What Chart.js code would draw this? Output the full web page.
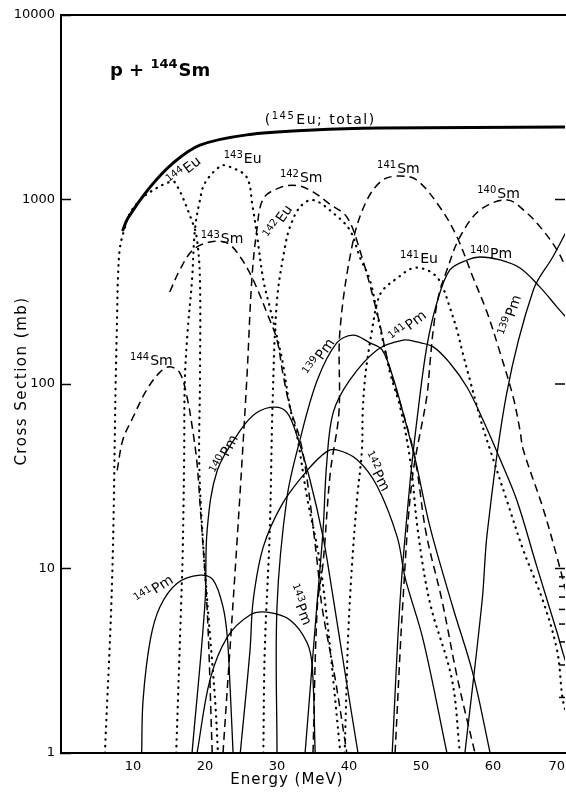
<!DOCTYPE html>
<html>
<head>
<meta charset="utf-8">
<script src="https://cdn.jsdelivr.net/npm/chart.js@4.4.1/dist/chart.umd.min.js"></script>
<style>
  html, body { margin: 0; padding: 0; background: #fff; overflow: hidden; }
</style>
</head>
<body>
<canvas id="xs" width="566" height="794"></canvas>
<script>
const FONT = '"DejaVu Sans", sans-serif';

const xTicks = [10, 20, 30, 40, 50, 60, 70];
const yTicks = [1, 10, 100, 1000, 10000];
const rightMinor = [2, 3, 4, 5, 6, 7, 8, 9];

// [energy MeV, cross section mb]
const total = [[8.6,684],[9.3,794],[12.4,1170],[15.6,1580],[19.3,1970],[25.8,2240],[35,2380],[44.3,2440],[70,2470]];

const eu144 = [[6.1,1],[7.1,8.7],[7.6,105],[7.8,243],[7.9,366],[8.2,552],[8.9,709],[9.6,845],[11,994],[12.4,1100],[14.7,1228],[15.8,1240],[18.3,746],[18.9,603],[19.3,366],[19.3,105],[19.2,37],[19.7,14.3],[20.3,6.75],[21.4,1.94],[21.8,1]];
const eu143 = [[16,1],[16.7,6.7],[16.9,12],[17.1,39],[17.2,105],[17.6,196],[18.2,366],[18.6,684],[19.3,994],[20,1230],[22.2,1520],[23.5,1500],[25.8,1320],[26.6,920],[27.2,650],[28.1,366],[29,261],[30,180],[30.8,130],[31.8,75],[32.8,52],[34.2,24],[35.6,13],[36.3,8.7],[37.4,3.6],[38.8,1]];
const eu142 = [[28.1,1],[28.3,3.6],[29,16.2],[29.4,82],[30,285],[31.1,552],[31.8,709],[33.2,911],[35,994],[37.8,845],[40.1,684],[41.5,488],[42.9,366],[43.9,243],[45.7,115],[47.1,75],[48.5,38.7],[49.6,15.6],[51.25,6.5],[54.3,2.5],[55.4,1]];
const eu141 = [[39.4,1],[39.7,2.6],[39.9,4.5],[40.4,10.2],[41.1,23.5],[41.8,44],[41.9,70],[42.2,105],[42.6,140],[43.2,196],[43.9,275],[44.7,323],[46.7,375],[48.9,425],[50.8,415],[52.2,380],[53,336],[54,261],[55,196],[55.8,147],[56.8,105],[57.8,75],[58.6,58],[59.6,44],[61.9,23.5],[64.2,12.6],[66.9,6.75],[68.9,3.6],[69.7,1.94],[70.5,1.5]];

const sm144 = [[7.8,34],[8.6,50],[10,66],[11.9,93],[13.75,116],[15.1,124],[16.5,115],[17.5,85],[18.3,56],[18.9,37],[19.3,22.6],[20.3,6],[21,1]];
const sm143 = [[15.1,315],[16.5,415],[18.3,532],[20.7,588],[23.1,580],[24.9,488],[26.7,366],[28.6,243],[30,173],[30.8,115],[31.8,75],[33.2,50],[34.2,30],[35.6,10.7],[36.25,6.2],[38.1,2.5],[39.7,1]];
const sm142 = [[22.5,1],[24.4,13.1],[25.8,105],[26.5,366],[27.2,684],[28.1,1010],[30.4,1160],[32.8,1190],[35,1100],[37.4,940],[39.7,804],[41.5,532],[43.9,243],[45.7,119],[47.5,70],[49.2,39],[50.7,15.6],[52.9,6.75],[55.1,2.5],[57.5,1]];
const sm141 = [[35,1],[35.6,6.2],[36.4,10.7],[37.4,33],[38.6,70],[38.75,196],[40.6,603],[42.5,994],[44.7,1276],[47.1,1340],[49.4,1276],[52.6,911],[55,626],[57.2,380],[59.2,243],[61,147],[62.8,85],[63.75,56],[64.2,44],[66.9,21.5],[68.9,11.5],[70.1,7.6]];
const sm140 = [[46.4,1],[47.5,6.75],[48.75,30],[50.8,85],[51.25,130],[51.7,196],[52.4,296],[53.6,415],[55.4,626],[58.2,877],[62,994],[64.7,845],[66.9,684],[68.9,532],[70.1,431]];

const pm141a = [[11.2,1],[11.4,1.94],[12.4,4.1],[13.75,6.2],[16.1,8.3],[19.3,9.2],[21.1,8.7],[22.5,6.2],[23.1,4.25],[23.5,2.2],[23.9,1]];
const pm143 = [[18.9,1],[20.7,2.5],[23.1,4.25],[26.25,5.6],[28.6,5.8],[31.8,5.26],[34.2,3.95],[34.9,2.92],[35.3,1]];
const pm140a = [[18.2,1],[20,6.5],[20.3,16.2],[21.7,34],[24.9,56],[27.2,70],[29.7,75],[31.4,70],[32.8,52],[34.6,30],[36.4,14.8],[37.4,8.7],[39.4,2.8],[41.25,1]];
const pm142 = [[24.9,1],[26.25,3.6],[26.7,6.75],[28.1,13.1],[30.8,22.6],[34.2,34],[36.9,43],[38.3,44],[41.1,39],[43.9,28],[46.7,14.8],[47.8,8.9],[50.3,4.1],[53.6,1]];
const pm139a = [[30,1],[30,6.2],[31.4,24.4],[33.2,50],[35.6,105],[38.3,167],[40.6,184],[42.9,167],[44.6,153],[46.1,109],[47.5,70],[49.2,39],[51.25,16.8],[54.4,6.2],[57.2,2.7],[59.6,1]];
const pm141b = [[33.9,1],[35.6,6.75],[36.4,16.2],[36.9,37],[37.8,70],[40.1,105],[43.9,153],[47.5,173],[49.4,169],[51.7,159],[54,130],[56.4,96],[58.6,64],[61,39],[63.3,23.5],[66.1,10.2],[68.9,4.5],[69.7,3.5],[70.5,2.8]];
const pm140b = [[46,1],[47.1,6.75],[48.5,30],[49.6,72],[50.8,159],[52.2,275],[54,415],[56.4,470],[58.2,488],[61,470],[63.75,425],[66.5,336],[68.9,261],[70.1,231]];
const pm139b = [[56.1,1],[58.5,6.75],[59.2,15.6],[61.9,89],[65.6,323],[68.3,488],[70.3,684]];

const curves = [
  ['145Eu total', total, 'thick'],
  ['144Eu', eu144, 'dot'], ['143Eu', eu143, 'dot'], ['142Eu', eu142, 'dot'], ['141Eu', eu141, 'dot'],
  ['144Sm', sm144, 'dash'], ['143Sm', sm143, 'dash'], ['142Sm', sm142, 'dash'], ['141Sm', sm141, 'dash'], ['140Sm', sm140, 'dash'],
  ['141Pm', pm141a, 'solid'], ['143Pm', pm143, 'solid'], ['140Pm', pm140a, 'solid'], ['142Pm', pm142, 'solid'],
  ['139Pm', pm139a, 'solid'], ['141Pm b', pm141b, 'solid'], ['140Pm b', pm140b, 'solid'], ['139Pm b', pm139b, 'solid']
];

// curve tags: mass number, element, anchor (MeV, mb), rotation (deg)
const tags = [
  {pre: '', mass: '144', el: 'Eu', e: 15.4, v: 1183, rot: -38},
  {pre: '', mass: '143', el: 'Eu', e: 22.6, v: 1577, rot: 0},
  {pre: '', mass: '142', el: 'Sm', e: 30.4, v: 1250, rot: 0},
  {pre: '', mass: '141', el: 'Sm', e: 43.9, v: 1400, rot: 0},
  {pre: '', mass: '140', el: 'Sm', e: 57.8, v: 1019, rot: 0},
  {pre: '(', mass: '145', el: 'Eu; total)', e: 28.3, v: 2566, rot: 0, wide: true},
  {pre: '', mass: '143', el: 'Sm', e: 19.4, v: 581, rot: 0},
  {pre: '', mass: '142', el: 'Eu', e: 29.2, v: 603, rot: -55},
  {pre: '', mass: '141', el: 'Eu', e: 47.1, v: 453, rot: 0},
  {pre: '', mass: '140', el: 'Pm', e: 56.8, v: 482, rot: 0},
  {pre: '', mass: '139', el: 'Pm', e: 62.1, v: 180, rot: -72},
  {pre: '', mass: '144', el: 'Sm', e: 9.6, v: 127, rot: 0},
  {pre: '', mass: '139', el: 'Pm', e: 34.7, v: 109, rot: -55},
  {pre: '', mass: '141', el: 'Pm', e: 46.25, v: 167, rot: -38},
  {pre: '', mass: '140', el: 'Pm', e: 21.9, v: 32, rot: -62},
  {pre: '', mass: '142', el: 'Pm', e: 41.9, v: 41.2, rot: 62},
  {pre: '', mass: '143', el: 'Pm', e: 31.5, v: 7.94, rot: 68},
  {pre: '', mass: '141', el: 'Pm', e: 10.8, v: 6.34, rot: -33}
];
const heading = {pre: 'p + ', mass: '144', el: 'Sm', e: 6.8, v: 4670, rot: 0};

const looks = {
  thick: {borderWidth: 3, borderDash: [], borderCapStyle: 'round'},
  solid: {borderWidth: 1.3, borderDash: [], borderCapStyle: 'butt'},
  dash: {borderWidth: 1.5, borderDash: [8, 5], borderCapStyle: 'butt'},
  dot: {borderWidth: 2.2, borderDash: [0.5, 6], borderCapStyle: 'round'}
};

const datasets = curves.map(([name, pts, kind]) => Object.assign({
  label: name,
  data: pts.map(p => ({x: p[0], y: p[1]})),
  borderColor: '#000',
  pointRadius: 0,
  fill: false,
  tension: 0.35
}, looks[kind]));

function drawTag(ctx, t, big) {
  const main = (big ? 'bold 18px ' : '14px ') + FONT;
  const sup = (big ? 'bold 13px ' : '10px ') + FONT;
  ctx.letterSpacing = t.wide ? '1.5px' : '0px';
  let x = 0;
  ctx.font = main;
  if (t.pre) { ctx.fillText(t.pre, x, 0); x += ctx.measureText(t.pre).width; }
  ctx.font = sup;
  ctx.fillText(t.mass, x, big ? -8 : -5);
  x += ctx.measureText(t.mass).width + 1;
  ctx.font = main;
  ctx.fillText(t.el, x, 0);
}

const decor = {
  id: 'decor',
  afterDraw(chart) {
    const {ctx, chartArea: a, scales: {x, y}} = chart;
    ctx.save();
    ctx.strokeStyle = '#000';
    ctx.fillStyle = '#000';
    // top frame line
    ctx.lineWidth = 2;
    ctx.beginPath();
    ctx.moveTo(a.left - 1, a.top);
    ctx.lineTo(chart.width, a.top);
    ctx.stroke();
    // right side ticks
    ctx.lineWidth = 1.5;
    yTicks.forEach(v => {
      const py = y.getPixelForValue(v);
      ctx.beginPath(); ctx.moveTo(a.right, py); ctx.lineTo(a.right - 10, py); ctx.stroke();
    });
    rightMinor.forEach(v => {
      const py = y.getPixelForValue(v);
      ctx.beginPath(); ctx.moveTo(a.right, py); ctx.lineTo(a.right - 6, py); ctx.stroke();
    });
    // curve tags
    ctx.textBaseline = 'alphabetic';
    ctx.textAlign = 'left';
    tags.forEach(t => {
      ctx.save();
      ctx.translate(x.getPixelForValue(t.e), y.getPixelForValue(t.v));
      ctx.rotate(t.rot * Math.PI / 180);
      drawTag(ctx, t, false);
      ctx.restore();
    });
    ctx.save();
    ctx.translate(x.getPixelForValue(heading.e), y.getPixelForValue(heading.v));
    drawTag(ctx, heading, true);
    ctx.restore();
    // axis titles
    ctx.font = '15px ' + FONT;
    ctx.textAlign = 'center';
    ctx.letterSpacing = '1px';
    ctx.fillText('Energy (MeV)', 287, 784);
    ctx.save();
    ctx.translate(26, (a.top + a.bottom) / 2 - 3);
    ctx.rotate(-Math.PI / 2);
    ctx.letterSpacing = '1.5px';
    ctx.fillText('Cross Section (mb)', 0, 0);
    ctx.restore();
    ctx.restore();
  }
};

new Chart(document.getElementById('xs'), {
  type: 'line',
  data: {datasets: datasets},
  options: {
    responsive: false,
    animation: false,
    layout: {padding: {top: 15, right: 1, left: 0, bottom: 0}},
    plugins: {legend: {display: false}, tooltip: {enabled: false}},
    scales: {
      x: {
        type: 'linear',
        min: 0,
        max: 70,
        afterFit: s => { s.height = 41; s.paddingLeft = 0; s.paddingRight = 0; },
        grid: {display: false, drawTicks: false},
        border: {display: true, color: '#000', width: 2},
        ticks: {
          stepSize: 10,
          align: 'inner',
          padding: 6,
          maxRotation: 0,
          autoSkip: false,
          color: '#000',
          font: {family: FONT, size: 13},
          callback: v => xTicks.includes(v) ? String(v) : ''
        }
      },
      y: {
        type: 'logarithmic',
        min: 1,
        max: 10000,
        afterFit: s => { s.width = 61; s.paddingTop = 0; s.paddingBottom = 0; },
        grid: {
          display: true,
          drawOnChartArea: false,
          drawTicks: true,
          tickLength: -10,
          tickWidth: 1.5,
          tickColor: c => (c.tick && yTicks.includes(c.tick.value)) ? '#000' : 'rgba(0,0,0,0)'
        },
        border: {display: true, color: '#000', width: 2},
        ticks: {
          padding: 16,
          autoSkip: false,
          color: '#000',
          font: {family: FONT, size: 13},
          callback: v => yTicks.includes(v) ? String(v) : ''
        }
      }
    }
  },
  plugins: [decor]
});
</script>
</body>
</html>
